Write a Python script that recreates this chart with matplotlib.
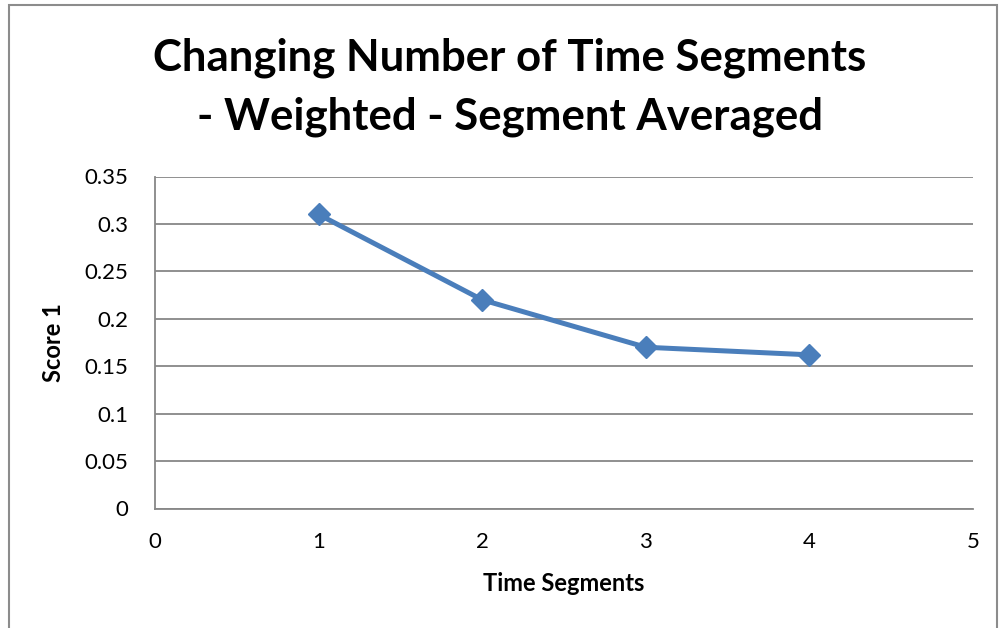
import matplotlib
matplotlib.use('Agg')
import matplotlib.pyplot as plt
from matplotlib.patches import Rectangle

# data
segments = [1, 2, 3, 4]
score = [0.31, 0.22, 0.17, 0.162]
x_ticks = [0, 1, 2, 3, 4, 5]
y_ticks = [0, 0.05, 0.1, 0.15, 0.2, 0.25, 0.3, 0.35]
y_tick_labels = ['0', '0.05', '0.1', '0.15', '0.2', '0.25', '0.3', '0.35']

plt.rcParams['font.family'] = ['Lato', 'DejaVu Sans']

W, H = 1000, 628
fig = plt.figure(figsize=(W / 100, H / 100), dpi=100)
fig.patch.set_facecolor('white')

# plot area in pixel coords
left, right, top, bottom = 155, 973, 176.5, 508.5
ax = fig.add_axes([left / W, 1 - bottom / H, (right - left) / W, (bottom - top) / H])

ax.plot(segments, score, color='#4A7EBB', linewidth=3.6, marker='D',
        markersize=11, markeredgecolor='#4A7EBB', markerfacecolor='#4A7EBB', zorder=3)

ax.set_xlim(0, 5)
ax.set_ylim(0, 0.35)
ax.set_xticks(x_ticks)
ax.set_yticks(y_ticks)
ax.set_yticklabels(y_tick_labels)
ax.tick_params(length=0, labelsize=16)
ax.tick_params(axis='y', pad=19)
ax.tick_params(axis='x', pad=17)

grid_col = '#878787'
ax.grid(axis='y', color=grid_col, linewidth=1.3)
ax.set_axisbelow(True)
for side in ['top', 'right']:
    ax.spines[side].set_visible(False)
for side in ['left', 'bottom']:
    ax.spines[side].set_color(grid_col)
    ax.spines[side].set_linewidth(1.3)

ax.set_xlabel('Time Segments', fontsize=17, fontweight='bold', labelpad=14)
ax.set_ylabel('Score 1', fontsize=17, fontweight='bold', labelpad=14)

fig.text(510 / W, 1 - 58 / H, 'Changing Number of Time Segments', ha='center', va='center',
         fontsize=31.5, fontweight='bold')
fig.text(510 / W, 1 - 117 / H, '- Weighted - Segment Averaged', ha='center', va='center',
         fontsize=31.5, fontweight='bold')

# outer chart border
fig.patches.append(Rectangle((9 / W, -0.05), (997 - 9) / W, 1.05 - 5 / H,
                             transform=fig.transFigure, fill=False,
                             edgecolor='#8c8c8c', linewidth=1.5))

fig.savefig('out.png', dpi=100)
